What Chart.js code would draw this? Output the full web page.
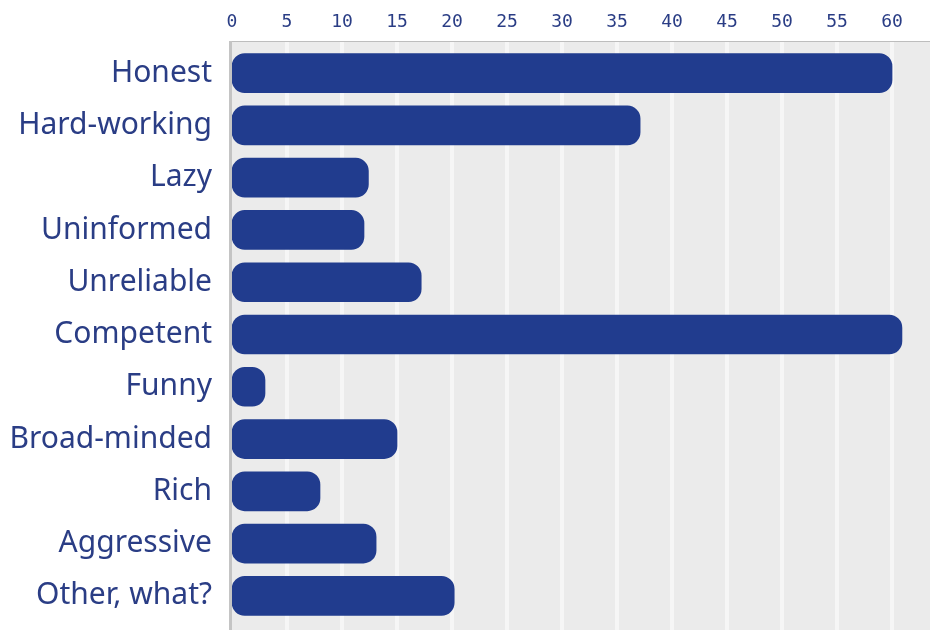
<!DOCTYPE html>
<html>
<head>
<meta charset="utf-8">
<script src="https://cdn.jsdelivr.net/npm/chart.js@4/dist/chart.umd.min.js"></script>
<style>
    html, body { margin: 0; padding: 0; background: #ffffff; }
    #chart { display: block; }
</style>
</head>
<body>
<canvas id="chart" width="930" height="630"></canvas>
<script>
// Données
const categories = ['Honest', 'Hard-working', 'Lazy', 'Uninformed', 'Unreliable', 'Competent',
    'Funny', 'Broad-minded', 'Rich', 'Aggressive', 'Other, what?'];
const values = [60, 37.1, 12.4, 12, 17.2, 60.9, 3, 15, 8, 13.1, 20.2];
const tickValues = [0, 5, 10, 15, 20, 25, 30, 35, 40, 45, 50, 55, 60];

const barColor = '#213c8e';
const textColor = '#2a3d85';

// Fond gris, bordures et lignes de grille sur toute la hauteur
const plotBackground = {
    id: 'plotBackground',
    beforeDatasetsDraw(chart) {
        const ctx = chart.ctx;
        const x = chart.scales.x;
        const left = chart.chartArea.left - 3;
        const top = 41;
        const bottom = chart.height;
        ctx.save();
        ctx.fillStyle = '#ebebeb';
        ctx.fillRect(left, top, chart.width - left, bottom - top);
        ctx.fillStyle = '#f6f6f6';
        tickValues.forEach(v => {
            if (v === 0) return;
            const px = x.getPixelForValue(v);
            ctx.fillRect(px - 2, top, 4, bottom - top);
        });
        ctx.fillStyle = '#bdbdbd';
        ctx.fillRect(left, top, chart.width - left, 1);
        ctx.fillStyle = '#c4c4c4';
        ctx.fillRect(left, top, 3, bottom - top);
        ctx.restore();
    }
};

new Chart(document.getElementById('chart'), {
    type: 'bar',
    data: {
        labels: categories,
        datasets: [{
            data: values,
            backgroundColor: barColor,
            borderWidth: 0,
            borderRadius: 13,
            borderSkipped: false,
            barThickness: 39
        }]
    },
    options: {
        indexAxis: 'y',
        responsive: false,
        animation: false,
        layout: { padding: { top: 0, right: 0, bottom: 8, left: 0 } },
        plugins: {
            legend: { display: false },
            tooltip: { enabled: false }
        },
        scales: {
            x: {
                position: 'top',
                min: 0,
                max: 63.45,
                afterBuildTicks: scale => {
                    scale.ticks = tickValues.map(v => ({ value: v }));
                },
                afterFit: scale => {
                    scale.height = 47;
                    scale.paddingLeft = 0;
                    scale.paddingRight = 0;
                },
                grid: { display: false, drawTicks: false },
                border: { display: false },
                ticks: {
                    color: textColor,
                    padding: 14,
                    font: { family: 'DejaVu Sans Mono', size: 18 }
                }
            },
            y: {
                afterFit: scale => {
                    scale.width = 232;
                    scale.paddingTop = 0;
                    scale.paddingBottom = 0;
                },
                grid: { display: false, drawTicks: false },
                border: { display: false },
                ticks: {
                    color: textColor,
                    padding: 20,
                    font: { family: 'Noto Sans', size: 30 }
                }
            }
        }
    },
    plugins: [plotBackground]
});
</script>
</body>
</html>
